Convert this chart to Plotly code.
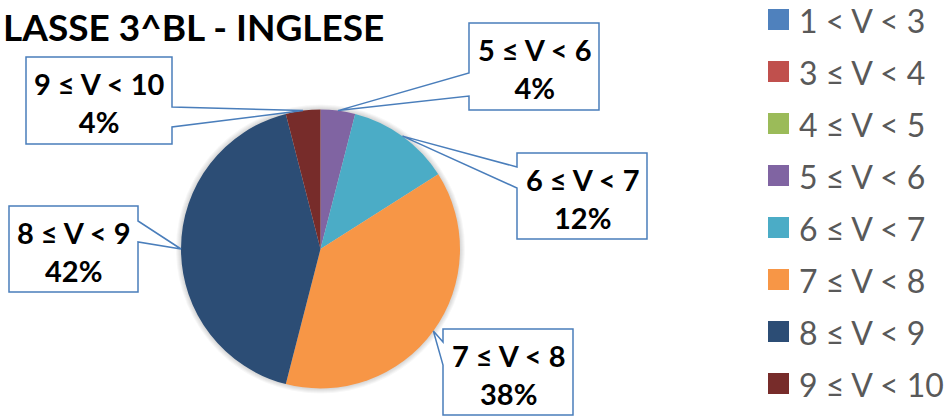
import plotly.graph_objects as go
import math

W, H = 949, 416

# grade bands, share of students (%) and band colours
labels = ["1 < V < 3", "3 ≤ V < 4", "4 ≤ V < 5", "5 ≤ V < 6",
          "6 ≤ V < 7", "7 ≤ V < 8", "8 ≤ V < 9", "9 ≤ V < 10"]
percent = [0, 0, 0, 4, 12, 38, 42, 4]
colors = ["#4F81BD", "#C0504D", "#9BBB59", "#8064A2",
          "#4BACC6", "#F79646", "#2C4D75", "#772C2A"]
title_text = "LASSE 3^BL - INGLESE"

# pie placement in pixels
CX, CY, R = 320.5, 249.0, 139.5

# callout boxes: x0, y0, x1, y1, side of the pointer, pointer base (y0, y1)
callouts = {
    "5 ≤ V < 6": (469, 23, 599, 110, "left", 73, 96),
    "6 ≤ V < 7": (517, 153, 647, 239, "left", 167, 188),
    "7 ≤ V < 8": (443, 329, 573, 415, "left", 342, 365),
    "8 ≤ V < 9": (9, 206, 138, 292, "right", 221, 242),
    "9 ≤ V < 10": (26, 57, 172, 144, "right", 107, 127),
}

BORDER = "#4A7EBB"
FONT = "Lato"


def px(x):
    return x / W


def py(y):
    return 1 - y / H


def esc(s):
    return s.replace("<", "&lt;")


fig = go.Figure()

fig.add_trace(go.Pie(
    labels=labels,
    values=percent,
    marker=dict(colors=colors, line=dict(width=0)),
    sort=False,
    direction="clockwise",
    rotation=0,
    textinfo="none",
    hoverinfo="label+percent",
    showlegend=False,
    domain=dict(x=[px(CX - R), px(CX + R)], y=[py(CY + R), py(CY - R)]),
))

shapes = []
annotations = []

# soft shadow around the pie
for k in range(1, 6):
    shapes.append(dict(
        type="circle", xref="paper", yref="paper", layer="below",
        x0=px(CX - R - k), x1=px(CX + R + k),
        y0=py(CY + R + k), y1=py(CY - R - k),
        fillcolor="rgba(0,0,0,0.03)", line=dict(width=0),
    ))

# callouts pointing at the middle of each slice
total = sum(percent)
cum = 0.0
for lab, v in zip(labels, percent):
    if v > 0 and lab in callouts:
        ang = math.radians((cum + v / 2) / total * 360)
        tx, ty = CX + R * math.sin(ang), CY - R * math.cos(ang)
        x0, y0, x1, y1, side, b0, b1 = callouts[lab]
        if side == "right":
            pts = [(x0, y0), (x1, y0), (x1, b0), (tx, ty), (x1, b1),
                   (x1, y1), (x0, y1)]
        else:
            pts = [(x0, y0), (x1, y0), (x1, y1), (x0, y1), (x0, b1),
                   (tx, ty), (x0, b0)]
        path = "M " + " L ".join(f"{px(a):.5f},{py(b):.5f}" for a, b in pts) + " Z"
        shapes.append(dict(
            type="path", xref="paper", yref="paper", layer="above",
            path=path, fillcolor="white", line=dict(color=BORDER, width=1.5),
        ))
        annotations.append(dict(
            xref="paper", yref="paper",
            x=px((x0 + x1) / 2), y=py((y0 + y1) / 2 + 2),
            xanchor="center", yanchor="middle",
            text=f"{esc(lab)}<br>{round(100 * v / total)}%",
            showarrow=False, align="center",
            font=dict(family=FONT, size=29, color="#000000", weight="bold"),
        ))
    cum += v

# legend column
LX, LY0, LY1, LSZ = 768, 19.5, 383.5, 21
step = (LY1 - LY0) / (len(labels) - 1)
for i, (lab, col) in enumerate(zip(labels, colors)):
    yc = LY0 + step * i
    shapes.append(dict(
        type="rect", xref="paper", yref="paper",
        x0=px(LX), x1=px(LX + LSZ), y0=py(yc + LSZ / 2), y1=py(yc - LSZ / 2),
        fillcolor=col, line=dict(width=0),
    ))
    annotations.append(dict(
        xref="paper", yref="paper", x=px(LX + 29), y=py(yc + 1),
        xanchor="left", yanchor="middle", text=esc(lab), showarrow=False,
        font=dict(family=FONT, size=32, color="#595959"),
    ))

# chart title
annotations.append(dict(
    xref="paper", yref="paper", x=px(1), y=py(27),
    xanchor="left", yanchor="middle", text=title_text, showarrow=False,
    font=dict(family=FONT, size=37, color="#000000", weight="bold"),
))

fig.update_layout(
    width=W, height=H,
    margin=dict(l=0, r=0, t=0, b=0),
    paper_bgcolor="white", plot_bgcolor="white",
    showlegend=False,
    shapes=shapes,
    annotations=annotations,
)

fig.write_html("out.html")
